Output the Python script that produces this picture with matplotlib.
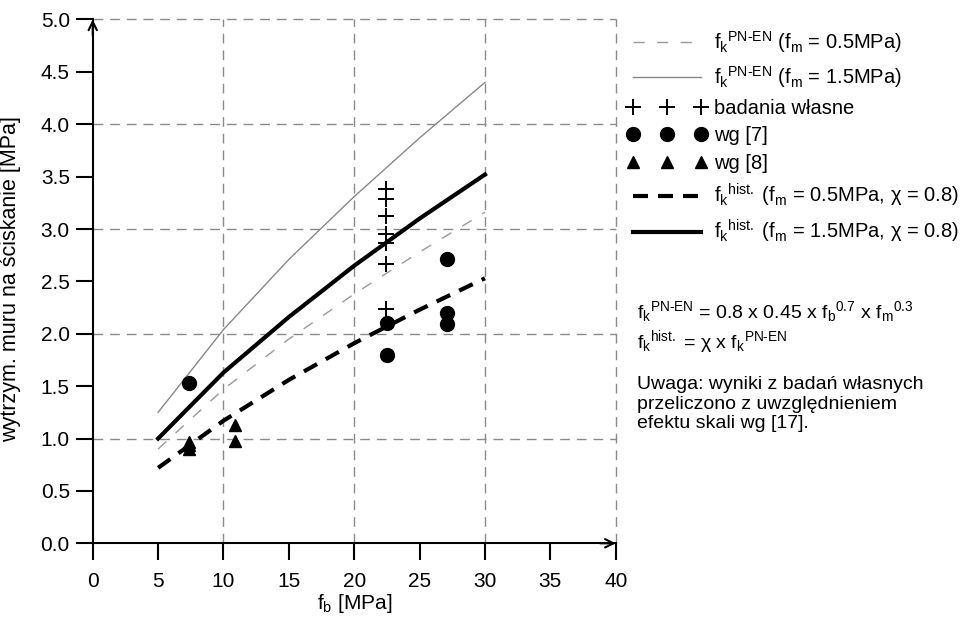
import matplotlib
matplotlib.use('Agg')
import matplotlib.pyplot as plt

plt.rcParams['font.family'] = ['Liberation Sans', 'DejaVu Sans']
plt.rcParams['mathtext.fontset'] = 'custom'
plt.rcParams['mathtext.rm'] = 'Liberation Sans'
plt.rcParams['mathtext.it'] = 'Liberation Sans'
plt.rcParams['mathtext.default'] = 'regular'

# curve points (f_b, f_k)
fb_curve = [5, 10, 15, 20, 25, 30]
fk_pnen_05 = [0.90, 1.47, 1.95, 2.38, 2.78, 3.16]
fk_pnen_15 = [1.25, 2.04, 2.71, 3.31, 3.87, 4.40]
fk_hist_05 = [0.72, 1.17, 1.56, 1.91, 2.23, 2.53]
fk_hist_15 = [1.00, 1.63, 2.16, 2.65, 3.10, 3.52]

# badania własne
own_x = [22.4, 22.4, 22.4, 22.4, 22.4, 22.4, 22.4]
own_y = [3.38, 3.29, 3.12, 2.95, 2.87, 2.67, 2.24]
# wg [7]
ref7_x = [7.4, 22.5, 22.5, 27.1, 27.1, 27.1]
ref7_y = [1.53, 2.10, 1.80, 2.71, 2.20, 2.09]
# wg [8]
ref8_x = [7.4, 7.4, 7.4, 10.9, 10.9]
ref8_y = [0.97, 0.94, 0.90, 1.13, 0.98]

grid_x = [10, 20, 30, 40]
grid_y = [1, 2, 3, 4, 5]

fig = plt.figure(figsize=(9.68, 6.19), dpi=100)
ax = fig.add_axes([0.0958, 0.1223, 0.5403, 0.8462])

for gx in grid_x:
    ax.axvline(gx, color='#8a8a8a', lw=1, ls=(0, (7, 5)), clip_on=False, zorder=1)
for gy in grid_y:
    ax.axhline(gy, color='#8a8a8a', lw=1, ls=(0, (7, 5)), clip_on=False, zorder=1)

l1, = ax.plot(fb_curve, fk_pnen_05, color='#999999', lw=1, ls=(0, (8, 9)), zorder=2)
l2, = ax.plot(fb_curve, fk_pnen_15, color='#888888', lw=1, zorder=2)
l6, = ax.plot(fb_curve, fk_hist_05, color='black', lw=3, ls=(0, (3.6, 2.4)), zorder=3)
l7, = ax.plot(fb_curve, fk_hist_15, color='black', lw=3, zorder=3)
l3, = ax.plot(own_x, own_y, ls='none', marker='+', ms=11, mew=1.4, color='black', zorder=4)
l4, = ax.plot(ref7_x, ref7_y, ls='none', marker='o', ms=10, color='black', zorder=4)
l5, = ax.plot(ref8_x, ref8_y, ls='none', marker='^', ms=9, color='black', zorder=4)

ax.set_xlim(0, 40)
ax.set_ylim(0, 5)
ax.set_xticks(range(0, 41, 5))
ax.set_yticks([i * 0.5 for i in range(11)])
ax.set_yticklabels([f'{i * 0.5:.1f}' for i in range(11)])
for s in ['top', 'right']:
    ax.spines[s].set_visible(False)
for s in ['left', 'bottom']:
    ax.spines[s].set_linewidth(1.5)
ax.tick_params(direction='out', length=12.5, width=1.5, labelsize=15)
ax.tick_params(axis='x', pad=8)
ax.tick_params(axis='y', pad=4)

ax.annotate('', xy=(1.0, 0), xytext=(0.97, 0), xycoords='axes fraction',
            arrowprops=dict(arrowstyle='->', lw=1.5, color='black', shrinkA=0, shrinkB=0, mutation_scale=15))
ax.annotate('', xy=(0, 1.0), xytext=(0, 0.97), xycoords='axes fraction',
            arrowprops=dict(arrowstyle='->', lw=1.5, color='black', shrinkA=0, shrinkB=0, mutation_scale=15))

ax.set_xlabel('f$_b$ [MPa]', fontsize=15, labelpad=1)
ax.set_ylabel('wytrzym. muru na ściskanie [MPa]', fontsize=15.5)
ax.yaxis.set_label_coords(-0.137, 0.505)

labels = [
    r'f$_k$$^{PN\text{-}EN}$ (f$_m$ = 0.5MPa)',
    r'f$_k$$^{PN\text{-}EN}$ (f$_m$ = 1.5MPa)',
    'badania własne',
    'wg [7]',
    'wg [8]',
    r'f$_k$$^{hist.}$ (f$_m$ = 0.5MPa, $\chi$ = 0.8)',
    r'f$_k$$^{hist.}$ (f$_m$ = 1.5MPa, $\chi$ = 0.8)',
]
fig.legend([l1, l2, l3, l4, l5, l6, l7], labels, loc='upper left',
           bbox_to_anchor=(0.6474, 0.953), frameon=False, fontsize=14.5,
           handlelength=4.0, handletextpad=0.35, numpoints=3,
           borderpad=0, borderaxespad=0, labelspacing=0.44)

fig.text(0.658, 0.497, r'f$_k$$^{PN\text{-}EN}$ = 0.8 x 0.45 x f$_b$$^{0.7}$ x f$_m$$^{0.3}$',
         fontsize=14, va='center')
fig.text(0.658, 0.448, r'f$_k$$^{hist.}$ = $\chi$ x f$_k$$^{PN\text{-}EN}$', fontsize=14, va='center')
fig.text(0.658, 0.393, 'Uwaga: wyniki z badań własnych\nprzeliczono z uwzględnieniem\nefektu skali wg [17].',
         fontsize=14, va='top', linespacing=1.22)

plt.savefig('out.png', dpi=100)
